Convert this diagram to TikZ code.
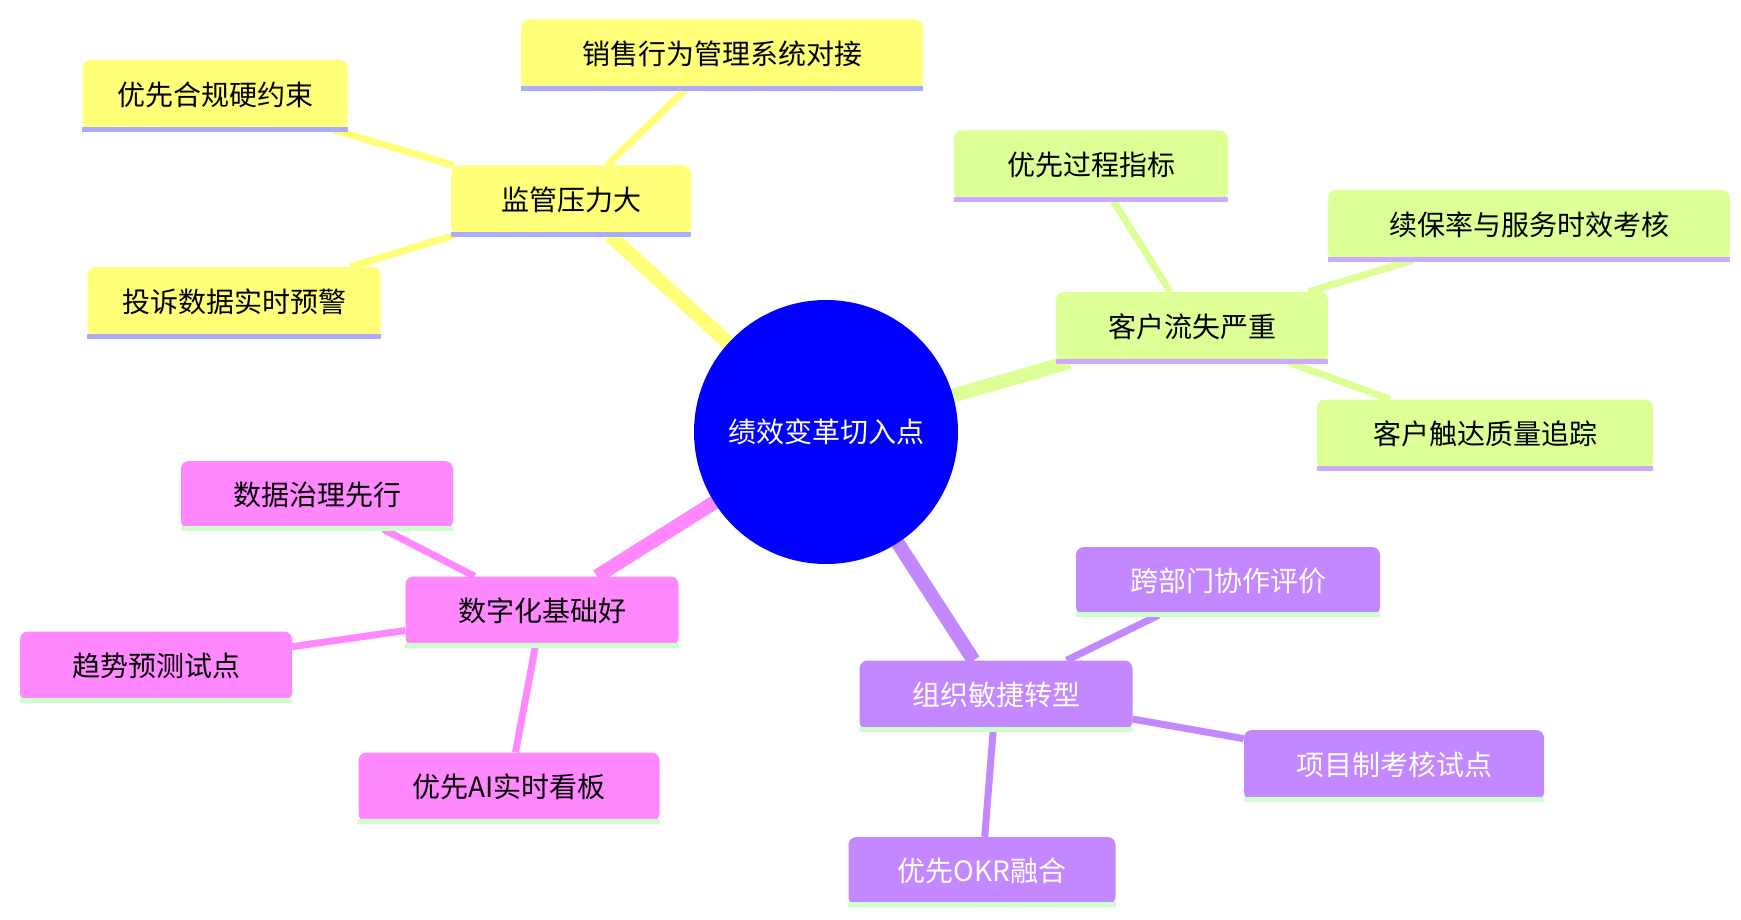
\documentclass[tikz,border=0pt]{standalone}
\usepackage{fontspec}
\setmainfont{Noto Sans CJK SC}
\usetikzlibrary{backgrounds}
\definecolor{yel}{HTML}{FFFF78}
\definecolor{grn}{HTML}{DCFF96}
\definecolor{pnk}{HTML}{FF88FF}
\definecolor{prp}{HTML}{C388FF}
\definecolor{ulb}{HTML}{AAAAFF}
\definecolor{ulp}{HTML}{CCAAFF}
\definecolor{ulg}{HTML}{CCFFCC}
\tikzset{
  box/.style={rounded corners=8pt, inner sep=0pt, font=\fontsize{28}{30}\selectfont},
  yb/.style={box, fill=yel, text=black},
  gb/.style={box, fill=grn, text=black},
  pb/.style={box, fill=pnk, text=black},
  vb/.style={box, fill=prp, text=white},
  mainl/.style={line width=14pt},
  subl/.style={line width=7pt},
}
\newcommand\mynode[8]{%
  \node[#2, minimum width=#5pt, minimum height=#6pt] (#1) at (#3,#4) {#8};
  \fill[#7] ([yshift=3pt]#1.south west) rectangle ([yshift=-2pt]#1.south east);
}
\begin{document}
\begin{tikzpicture}[x=1pt,y=-1pt]
\useasboundingbox (0,0) rectangle (1741,920);
\node[circle, fill=blue!90!black, fill=blue, minimum size=264pt, text=white, font=\fontsize{28}{30}\selectfont] (c) at (826,432) {绩效变革切入点};
% yellow
\mynode{a}{yb}{571}{200}{240}{69}{ulb}{监管压力大}
\mynode{a1}{yb}{722}{54}{402}{69}{ulb}{销售行为管理系统对接}
\mynode{a2}{yb}{215}{95}{265}{70}{ulb}{优先合规硬约束}
\mynode{a3}{yb}{234}{302}{293}{70}{ulb}{投诉数据实时预警}
% green
\mynode{b}{gb}{1192}{327}{272}{70}{ulp}{客户流失严重}
\mynode{b1}{gb}{1091}{165}{274}{69}{ulp}{优先过程指标}
\mynode{b2}{gb}{1529}{225}{402}{70}{ulp}{续保率与服务时效考核}
\mynode{b3}{gb}{1485}{434}{336}{69}{ulp}{客户触达质量追踪}
% pink
\mynode{d}{pb}{542}{611}{273}{69}{ulg}{数字化基础好}
\mynode{d1}{pb}{317}{495}{272}{68}{ulg}{数据治理先行}
\mynode{d2}{pb}{156}{666}{272}{69}{ulg}{趋势预测试点}
\mynode{d3}{pb}{509}{787}{301}{69}{ulg}{优先AI实时看板}
% purple
\mynode{e}{vb}{996}{695}{273}{69}{ulg}{组织敏捷转型}
\mynode{e1}{vb}{1228}{581}{304}{68}{ulg}{跨部门协作评价}
\mynode{e2}{vb}{1394}{765}{300}{70}{ulg}{项目制考核试点}
\mynode{e3}{vb}{982}{871}{267}{68}{ulg}{优先OKR融合}
\begin{pgfonlayer}{background}
\draw[yel,mainl] (c) -- (a);
\draw[grn,mainl] (c) -- (b);
\draw[pnk,mainl] (c) -- (d);
\draw[prp,mainl] (c) -- (e);
\draw[yel,subl] (a) -- (a1); \draw[yel,subl] (a) -- (a2); \draw[yel,subl] (a) -- (a3);
\draw[grn,subl] (b) -- (b1); \draw[grn,subl] (b) -- (b2); \draw[grn,subl] (b) -- (b3);
\draw[pnk,subl] (d) -- (d1); \draw[pnk,subl] (d) -- (d2); \draw[pnk,subl] (d) -- (d3);
\draw[prp,subl] (e) -- (e1); \draw[prp,subl] (e) -- (e2); \draw[prp,subl] (e) -- (e3);
\end{pgfonlayer}
\end{tikzpicture}
\end{document}
